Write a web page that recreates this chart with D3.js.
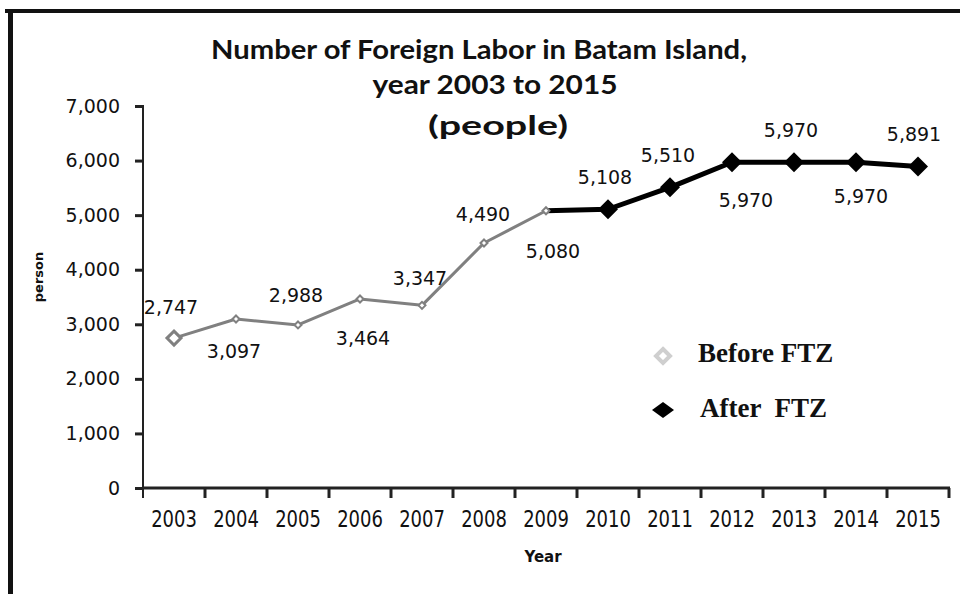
<!DOCTYPE html>
<html>
<head>
<meta charset="utf-8">
<script src="https://cdn.jsdelivr.net/npm/d3@7"></script>
<style>
  html, body { margin: 0; padding: 0; background: #fff; }
  svg { display: block; }
</style>
</head>
<body>
<svg id="chart" width="960" height="594"></svg>
<script>
// Foreign labour in Batam Island, 2003-2015 (people)
const years = ["2003", "2004", "2005", "2006", "2007", "2008", "2009",
               "2010", "2011", "2012", "2013", "2014", "2015"];
const beforeYears = ["2003", "2004", "2005", "2006", "2007", "2008", "2009"];
const beforeFTZ   = [2747, 3097, 2988, 3464, 3347, 4490, 5080];
const afterYears  = ["2009", "2010", "2011", "2012", "2013", "2014", "2015"];
const afterFTZ    = [5080, 5108, 5510, 5970, 5970, 5970, 5891];
const yTicks = [0, 1000, 2000, 3000, 4000, 5000, 6000, 7000];
const titleLines = ["Number of Foreign Labor in Batam Island,", "year 2003 to 2015", "(people)"];

// value label placement for each year (pixel offset from the point)
const labelOffset = [
  [-3, -31], [-2, 32], [-2, -30], [3, 39], [-2, -27], [-1, -29], [7, 40],
  [-3, -32], [-2, -32], [14, 38], [-3, -32], [5, 34], [-4, -32]
];

const svg = d3.select("#chart");
const plot = { left: 143, right: 949, top: 106, bottom: 488 };

const x = d3.scaleBand().domain(years).range([plot.left, plot.right]).padding(0);
const y = d3.scaleLinear().domain([0, 7000]).range([plot.bottom, plot.top]);
const cx = d => x(d) + x.bandwidth() / 2;

// outer frame (top and left edges)
svg.append("line").attr("x1", 5).attr("x2", 960).attr("y1", 11).attr("y2", 11)
  .attr("stroke", "#111").attr("stroke-width", 4);
svg.append("line").attr("x1", 10.5).attr("x2", 10.5).attr("y1", 9).attr("y2", 594)
  .attr("stroke", "#111").attr("stroke-width", 5);

// title, each line set to its column width
const titleY = [59, 94, 135];
const titleX = [479, 495, 498];
const titleW = [536, 245, 140];
titleLines.forEach((t, i) => {
  svg.append("text")
    .attr("x", titleX[i]).attr("y", titleY[i])
    .attr("text-anchor", "middle")
    .attr("font-family", "Lato, 'Open Sans', sans-serif")
    .attr("font-weight", "bold")
    .attr("font-size", 27)
    .attr("textLength", titleW[i])
    .attr("lengthAdjust", "spacingAndGlyphs")
    .attr("fill", "#111")
    .text(t);
});

// y axis
const yAxis = d3.axisLeft(y).tickValues(yTicks).tickFormat(d3.format(",")).tickSize(8).tickSizeOuter(0);
const gy = svg.append("g").attr("transform", `translate(${plot.left},0)`).call(yAxis);
gy.select(".domain").remove();
gy.selectAll(".tick line").attr("stroke", "#222").attr("stroke-width", 3);
gy.selectAll(".tick text")
  .attr("x", -23)
  .attr("font-family", "'DejaVu Sans', Verdana, sans-serif")
  .attr("font-size", 19).attr("fill", "#111");
svg.append("line")
  .attr("x1", plot.left).attr("x2", plot.left)
  .attr("y1", y(7000) - 1).attr("y2", plot.bottom + 10)
  .attr("stroke", "#222").attr("stroke-width", 2);

// x axis: baseline, ticks at category boundaries, labels at centres
svg.append("line")
  .attr("x1", plot.left - 1).attr("x2", plot.right + 1)
  .attr("y1", plot.bottom).attr("y2", plot.bottom)
  .attr("stroke", "#222").attr("stroke-width", 3);
const boundaries = years.map(d => x(d)).concat([x(years[years.length - 1]) + x.bandwidth()]);
svg.append("g").selectAll("line").data(boundaries.slice(1)).join("line")
  .attr("x1", d => d).attr("x2", d => d)
  .attr("y1", plot.bottom).attr("y2", plot.bottom + 10)
  .attr("stroke", "#222").attr("stroke-width", 3);
svg.append("g").selectAll("text").data(years).join("text")
  .attr("transform", d => `translate(${cx(d)},527) scale(1,1.12)`)
  .attr("text-anchor", "middle")
  .attr("font-family", "'DejaVu Sans Condensed', 'DejaVu Sans', sans-serif")
  .attr("font-stretch", "condensed")
  .attr("font-size", 20).attr("fill", "#111")
  .text(d => d);

// axis titles
svg.append("text")
  .attr("x", 543).attr("y", 562)
  .attr("text-anchor", "middle")
  .attr("font-family", "'DejaVu Sans', sans-serif").attr("font-weight", "bold")
  .attr("font-size", 15).attr("fill", "#111")
  .text("Year");
svg.append("text")
  .attr("transform", "translate(43,277) rotate(-90)")
  .attr("text-anchor", "middle")
  .attr("font-family", "'DejaVu Sans', sans-serif").attr("font-weight", "bold")
  .attr("font-size", 13).attr("fill", "#111")
  .text("person");

// series lines
const line = d3.line().x(d => cx(d.year)).y(d => y(d.value));
const beforeData = beforeYears.map((yr, i) => ({ year: yr, value: beforeFTZ[i] }));
const afterData = afterYears.map((yr, i) => ({ year: yr, value: afterFTZ[i] }));

svg.append("path").datum(afterData).attr("d", line)
  .attr("fill", "none").attr("stroke", "#000").attr("stroke-width", 5)
  .attr("stroke-linejoin", "round");
svg.append("path").datum(beforeData).attr("d", line)
  .attr("fill", "none").attr("stroke", "#808080").attr("stroke-width", 3)
  .attr("stroke-linejoin", "round");

const diamond = (w, h) => `M0,${-h}L${w},0L0,${h}L${-w},0Z`;

// after-FTZ markers (filled black diamonds)
svg.append("g").selectAll("path").data(afterData.slice(1)).join("path")
  .attr("transform", d => `translate(${cx(d.year)},${y(d.value)})`)
  .attr("d", diamond(10, 10)).attr("fill", "#000");

// before-FTZ markers (hollow grey diamonds)
svg.append("g").selectAll("path").data(beforeData).join("path")
  .attr("transform", d => `translate(${cx(d.year)},${y(d.value)})`)
  .attr("d", (d, i) => i === 0 ? diamond(7, 7) : diamond(3.5, 3.5))
  .attr("fill", "#fff").attr("stroke", "#808080")
  .attr("stroke-width", (d, i) => i === 0 ? 3 : 2);

// value labels
const allPoints = years.map((yr, i) => i < beforeYears.length
  ? beforeData[i] : afterData[i - beforeYears.length + 1]);
svg.append("g").selectAll("text").data(allPoints).join("text")
  .attr("x", (d, i) => cx(d.year) + labelOffset[i][0])
  .attr("y", (d, i) => y(d.value) + labelOffset[i][1])
  .attr("dy", "0.36em")
  .attr("text-anchor", "middle")
  .attr("font-family", "'DejaVu Sans', Verdana, sans-serif")
  .attr("font-size", 19).attr("fill", "#111")
  .text(d => d3.format(",")(d.value));

// legend
const legend = svg.append("g").attr("transform", "translate(663,0)");
legend.append("path").attr("transform", "translate(0,356)")
  .attr("d", diamond(7, 7)).attr("fill", "#fff")
  .attr("stroke", "#cfcfcf").attr("stroke-width", 4);
legend.append("text").attr("x", 35).attr("y", 362)
  .attr("font-family", "'Liberation Serif', 'Times New Roman', serif").attr("font-weight", "bold")
  .attr("font-size", 27).attr("fill", "#111")
  .text("Before FTZ");
legend.append("path").attr("transform", "translate(0,410)")
  .attr("d", diamond(11, 8)).attr("fill", "#000");
legend.append("text").attr("x", 37).attr("y", 417)
  .attr("font-family", "'Liberation Serif', 'Times New Roman', serif").attr("font-weight", "bold")
  .attr("font-size", 27).attr("fill", "#111")
  .style("white-space", "pre")
  .text("After  FTZ");
</script>
</body>
</html>
